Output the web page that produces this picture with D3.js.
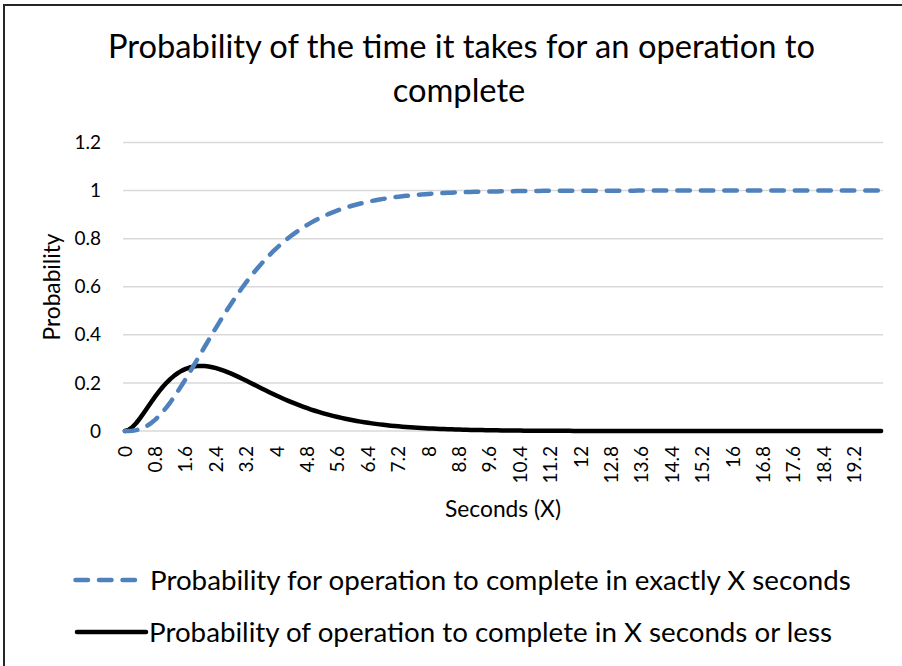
<!DOCTYPE html>
<html>
<head>
<meta charset="utf-8">
<script src="https://cdn.jsdelivr.net/npm/d3@7"></script>
<style>
  html, body { margin: 0; padding: 0; background: #fff; }
  svg { display: block; }
  text { font-family: "Lato", "Open Sans", sans-serif; fill: #000; }
</style>
</head>
<body>
<svg id="chart" width="902" height="666"></svg>
<script>
// Elapsed seconds (category axis, step 0.1 s)
const categories = [
  0,0.1,0.2,0.3,0.4,0.5,0.6,0.7,0.8,0.9,
  1,1.1,1.2,1.3,1.4,1.5,1.6,1.7,1.8,1.9,
  2,2.1,2.2,2.3,2.4,2.5,2.6,2.7,2.8,2.9,
  3,3.1,3.2,3.3,3.4,3.5,3.6,3.7,3.8,3.9,
  4,4.1,4.2,4.3,4.4,4.5,4.6,4.7,4.8,4.9,
  5,5.1,5.2,5.3,5.4,5.5,5.6,5.7,5.8,5.9,
  6,6.1,6.2,6.3,6.4,6.5,6.6,6.7,6.8,6.9,
  7,7.1,7.2,7.3,7.4,7.5,7.6,7.7,7.8,7.9,
  8,8.1,8.2,8.3,8.4,8.5,8.6,8.7,8.8,8.9,
  9,9.1,9.2,9.3,9.4,9.5,9.6,9.7,9.8,9.9,
  10,10.1,10.2,10.3,10.4,10.5,10.6,10.7,10.8,10.9,
  11,11.1,11.2,11.3,11.4,11.5,11.6,11.7,11.8,11.9,
  12,12.1,12.2,12.3,12.4,12.5,12.6,12.7,12.8,12.9,
  13,13.1,13.2,13.3,13.4,13.5,13.6,13.7,13.8,13.9,
  14,14.1,14.2,14.3,14.4,14.5,14.6,14.7,14.8,14.9,
  15,15.1,15.2,15.3,15.4,15.5,15.6,15.7,15.8,15.9,
  16,16.1,16.2,16.3,16.4,16.5,16.6,16.7,16.8,16.9,
  17,17.1,17.2,17.3,17.4,17.5,17.6,17.7,17.8,17.9,
  18,18.1,18.2,18.3,18.4,18.5,18.6,18.7,18.8,18.9,
  19,19.1,19.2,19.3,19.4,19.5,19.6,19.7,19.8,19.9
];

// Blue dashed series
const exactlySeries = [
  0,0.0002,0.0011,0.0036,0.0079,0.0144,0.0231,0.0341,0.0474,0.0629,
  0.0803,0.0996,0.1205,0.1429,0.1665,0.1912,0.2166,0.2428,0.2694,0.2963,
  0.3233,0.3504,0.3773,0.4040,0.4303,0.4562,0.4816,0.5064,0.5305,0.5540,
  0.5768,0.5988,0.6201,0.6406,0.6603,0.6792,0.6973,0.7146,0.7311,0.7469,
  0.7619,0.7762,0.7898,0.8026,0.8149,0.8264,0.8374,0.8477,0.8575,0.8667,
  0.8753,0.8835,0.8912,0.8984,0.9052,0.9116,0.9176,0.9232,0.9285,0.9334,
  0.9380,0.9423,0.9464,0.9502,0.9537,0.9570,0.9600,0.9629,0.9656,0.9680,
  0.9704,0.9725,0.9745,0.9764,0.9781,0.9797,0.9813,0.9826,0.9839,0.9851,
  0.9862,0.9873,0.9882,0.9891,0.9899,0.9907,0.9914,0.9921,0.9927,0.9933,
  0.9938,0.9942,0.9947,0.9951,0.9955,0.9958,0.9962,0.9965,0.9967,0.9970,
  0.9972,0.9974,0.9976,0.9978,0.9980,0.9982,0.9983,0.9984,0.9986,0.9987,
  0.9988,0.9989,0.9990,0.9991,0.9991,0.9992,0.9993,0.9993,0.9994,0.9994,
  0.9995,0.9995,0.9996,0.9996,0.9996,0.9997,0.9997,0.9997,0.9997,0.9998,
  0.9998,0.9998,0.9998,0.9998,0.9998,0.9999,0.9999,0.9999,0.9999,0.9999,
  0.9999,0.9999,0.9999,0.9999,0.9999,0.9999,0.9999,0.9999,1,1,
  1,1,1,1,1,1,1,1,1,1,
  1,1,1,1,1,1,1,1,1,1,
  1,1,1,1,1,1,1,1,1,1,
  1,1,1,1,1,1,1,1,1,1,
  1,1,1,1,1,1,1,1,1,1
];

// Black solid series
const orLessSeries = [
  0,0.0045,0.0164,0.0333,0.0536,0.0758,0.0988,0.1217,0.1438,0.1647,
  0.1839,0.2014,0.2169,0.2303,0.2417,0.2510,0.2584,0.2640,0.2678,0.2700,
  0.2707,0.2700,0.2681,0.2652,0.2613,0.2565,0.2510,0.2450,0.2384,0.2314,
  0.2240,0.2165,0.2087,0.2008,0.1929,0.1850,0.1771,0.1692,0.1615,0.1539,
  0.1465,0.1393,0.1323,0.1254,0.1188,0.1125,0.1064,0.1005,0.0948,0.0894,
  0.0842,0.0793,0.0746,0.0701,0.0659,0.0618,0.0580,0.0544,0.0509,0.0477,
  0.0446,0.0417,0.0390,0.0364,0.0340,0.0318,0.0296,0.0276,0.0258,0.0240,
  0.0223,0.0208,0.0194,0.0180,0.0167,0.0156,0.0144,0.0134,0.0125,0.0116,
  0.0107,0.0100,0.0092,0.0086,0.0079,0.0073,0.0068,0.0063,0.0058,0.0054,
  0.0050,0.0046,0.0043,0.0040,0.0037,0.0034,0.0031,0.0029,0.0027,0.0025,
  0.0023,0.0021,0.0019,0.0018,0.0016,0.0015,0.0014,0.0013,0.0012,0.0011,
  0.0010,0.0009,0.0009,0.0008,0.0007,0.0007,0.0006,0.0006,0.0005,0.0005,
  0.0004,0.0004,0.0004,0.0003,0.0003,0.0003,0.0003,0.0002,0.0002,0.0002,
  0.0002,0.0002,0.0002,0.0001,0.0001,0.0001,0.0001,0.0001,0.0001,0.0001,
  0.0001,0.0001,0.0001,0.0001,0.0001,0.0001,0,0,0,0,
  0,0,0,0,0,0,0,0,0,0,
  0,0,0,0,0,0,0,0,0,0,
  0,0,0,0,0,0,0,0,0,0,
  0,0,0,0,0,0,0,0,0,0,
  0,0,0,0,0,0,0,0,0,0
];

// Labelled categories on the horizontal axis
const xTickValues = [0,0.8,1.6,2.4,3.2,4,4.8,5.6,6.4,7.2,8,8.8,9.6,10.4,11.2,12,12.8,13.6,14.4,15.2,16,16.8,17.6,18.4,19.2];
const xTickLabels = ["0","0.8","1.6","2.4","3.2","4","4.8","5.6","6.4","7.2","8","8.8","9.6","10.4","11.2","12","12.8","13.6","14.4","15.2","16","16.8","17.6","18.4","19.2"];
const yTickValues = [0,0.2,0.4,0.6,0.8,1,1.2];
const yTickLabels = ["0","0.2","0.4","0.6","0.8","1","1.2"];

const titleLines = ["Probability of the time it takes for an operation to", "complete"];
const xAxisTitle = "Seconds (X)";
const yAxisTitle = "Probability";
const seriesNames = [
  "Probability for operation to complete in exactly X seconds",
  "Probability of operation to complete in X seconds or less"
];

const BLUE = "#4f81bd";
const DASH = "12.5 11";
const svg = d3.select("#chart");

// Scale a text element so that its rendered width equals `w`
function fitWidth(sel, w) {
  const node = sel.node();
  const size = parseFloat(sel.attr("font-size"));
  const len = node.getComputedTextLength();
  sel.attr("font-size", (size * w / len).toFixed(2));
  return sel;
}

// Outer chart-area border
svg.append("rect")
  .attr("x", 4).attr("y", 5)
  .attr("width", 940).attr("height", 720)
  .attr("fill", "none").attr("stroke", "#262626").attr("stroke-width", 2);

const plot = { left: 123, right: 883, top: 142.5, bottom: 431 };

const x = d3.scaleBand().domain(categories).range([plot.left, plot.right]);
const cx = v => x(v) + x.bandwidth() / 2;
const y = d3.scaleLinear().domain([0, 1.2]).range([plot.bottom, plot.top]);

// Horizontal gridlines
svg.append("g")
  .selectAll("line").data(yTickValues).join("line")
  .attr("x1", plot.left).attr("x2", plot.right)
  .attr("y1", d => y(d)).attr("y2", d => y(d))
  .attr("stroke", "#d9d9d9").attr("stroke-width", 1.5);

// Y axis labels
const yAxis = d3.axisLeft(y).tickValues(yTickValues)
  .tickFormat((d, i) => yTickLabels[i]).tickSize(0).tickPadding(0);
const gy = svg.append("g").attr("transform", `translate(101,0)`).call(yAxis);
gy.select(".domain").remove();
gy.selectAll("text").attr("font-size", 19).attr("fill", "#000")
  .style("font-family", "Lato, 'Open Sans', sans-serif");

// X axis labels, rotated
const xAxis = d3.axisBottom(x).tickValues(xTickValues)
  .tickFormat((d, i) => xTickLabels[i]).tickSize(0);
const gx = svg.append("g").attr("transform", `translate(0,${plot.bottom})`).call(xAxis);
gx.select(".domain").remove();
gx.selectAll("text")
  .attr("font-size", 19).attr("fill", "#000")
  .style("font-family", "Lato, 'Open Sans', sans-serif")
  .attr("text-anchor", "end")
  .attr("y", 0).attr("dy", "0.35em")
  .attr("transform", "translate(0,15) rotate(-90)")
  .attr("x", 0);

// Series lines
const line = d3.line().x((d, i) => cx(categories[i])).y(d => y(d));

svg.append("path").datum(orLessSeries)
  .attr("d", line)
  .attr("fill", "none").attr("stroke", "#000")
  .attr("stroke-width", 4.5).attr("stroke-linecap", "round").attr("stroke-linejoin", "round");

svg.append("path").datum(exactlySeries)
  .attr("d", line)
  .attr("fill", "none").attr("stroke", BLUE)
  .attr("stroke-width", 4.5).attr("stroke-linecap", "round").attr("stroke-linejoin", "round")
  .attr("stroke-dasharray", DASH);

// Chart title
const t1 = svg.append("text").attr("x", 461.5).attr("y", 58)
  .attr("text-anchor", "middle").attr("font-size", 30).text(titleLines[0]);
fitWidth(t1, 707);
const t2 = svg.append("text").attr("x", 459).attr("y", 102)
  .attr("text-anchor", "middle").attr("font-size", t1.attr("font-size")).text(titleLines[1]);

// Axis titles
const xt = svg.append("text").attr("x", 503).attr("y", 517)
  .attr("text-anchor", "middle").attr("font-size", 18).text(xAxisTitle);
fitWidth(xt, 116);
const yt = svg.append("text")
  .attr("transform", "translate(60,287) rotate(-90)")
  .attr("text-anchor", "middle").attr("font-size", 18).text(yAxisTitle);
fitWidth(yt, 107);

// Legend
const legendRows = [
  { name: seriesNames[0], y: 580, dash: DASH, color: BLUE, x1: 75.5, x2: 135.5, tx: 150, w: 701 },
  { name: seriesNames[1], y: 632, dash: null, color: "#000", x1: 77, x2: 146, tx: 149, w: 683 }
];
const lg = svg.append("g");
legendRows.forEach(r => {
  lg.append("line")
    .attr("x1", r.x1).attr("x2", r.x2).attr("y1", r.y).attr("y2", r.y)
    .attr("stroke", r.color).attr("stroke-width", 4.5).attr("stroke-linecap", "round")
    .attr("stroke-dasharray", r.dash);
  const t = lg.append("text").attr("x", r.tx).attr("y", r.y).attr("dy", "0.35em")
    .attr("font-size", 26).text(r.name);
  fitWidth(t, r.w);
});
</script>
</body>
</html>
